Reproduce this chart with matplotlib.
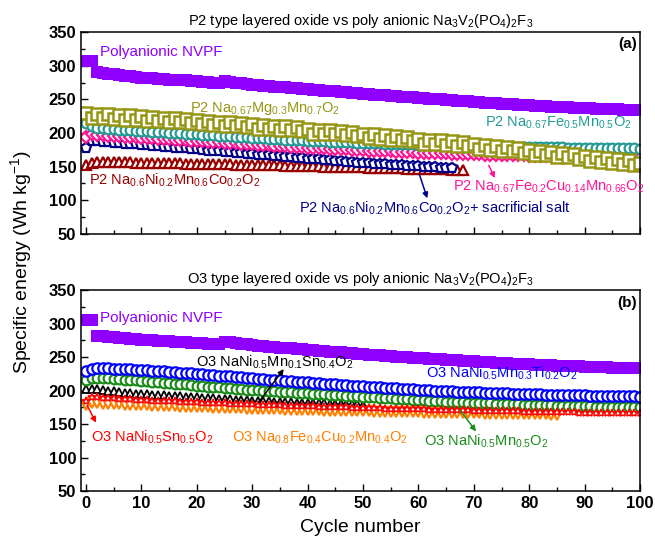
import numpy as np
import matplotlib
matplotlib.use('Agg')
import matplotlib.pyplot as plt
from matplotlib.ticker import MultipleLocator

plt.rcParams['font.family'] = ['Liberation Sans', 'DejaVu Sans']
plt.rcParams['mathtext.fontset'] = 'custom'
plt.rcParams['mathtext.rm'] = 'Liberation Sans'
plt.rcParams['mathtext.it'] = 'Liberation Sans:italic'
plt.rcParams['mathtext.bf'] = 'Liberation Sans:bold'
plt.rcParams['mathtext.default'] = 'regular'

# ---------------- panel (a) : P2 oxides vs NVPF ----------------
nvpf_a = [307, 307, 290,
          289, 288, 287, 286, 285, 284, 283, 282,
          281, 281, 280, 280, 279, 279, 278, 278, 277, 277, 276, 276, 275, 275,
          277, 276, 275, 274, 273, 272, 271, 270.5, 270, 269, 268.5, 268, 267, 266.5, 266, 265,
          264.5, 264, 263, 262.5, 262, 261, 260.5, 260, 259, 258.5, 258, 257, 256.5, 256, 255.5, 255, 254, 253.5, 253, 252,
          251.5, 251, 250.5, 250, 249, 248.5, 248, 247.5, 247, 246, 245.5, 245, 244.5, 244, 243.5, 243, 242.5, 242, 241.5, 241,
          240.5, 240, 239.5, 239, 238.5, 238, 238, 237.5, 237, 237, 236.5, 236, 236, 235.5, 235, 235, 234.5, 234.5, 234, 234]

mg_p2 = [229, 222, 228, 222, 228, 221, 227, 220, 226, 219,
         225, 218, 224, 218, 223, 217, 222, 216, 221, 215,
         219, 213, 218, 212, 217, 211, 216, 210, 215, 209,
         213, 206, 212, 206, 211, 205, 210, 204, 209, 203,
         206, 199, 205, 199, 204, 198, 203, 197, 202, 196,
         199, 192, 198, 191, 197, 190, 196, 189, 194, 188,
         191, 184, 190, 183, 189, 182, 188, 181, 186, 180,
         183, 176, 182, 175, 181, 174, 179, 173, 178, 171,
         175, 168, 174, 167, 172, 165, 171, 164, 169, 162,
         166, 159, 165, 157, 163, 156, 162, 154, 160, 152,
         155]

femn_p2 = [215, 211, 208,
           207, 206, 205.5, 205, 204.5, 204, 203.5, 203,
           202.5, 202, 201.5, 201, 200.5, 200, 199.5, 199, 198.5, 198,
           197.5, 197, 196.5, 196, 195.5, 195, 194.5, 194, 193.5, 193,
           192.5, 192, 191.5, 191, 190.5, 190, 189.5, 189, 189, 188.5,
           188, 188, 187.5, 187, 187, 186.5, 186, 186, 185.5, 185,
           185, 184.5, 184.5, 184, 184, 183.5, 183.5, 183, 183, 182.5,
           182.5, 182, 182, 182, 181.5, 181.5, 181, 181, 181, 180.5,
           180.5, 180.5, 180, 180, 180, 179.5, 179.5, 179.5, 179, 179,
           179, 179, 178.5, 178.5, 178.5, 178.5, 178, 178, 178, 178,
           177.5, 177.5, 177.5, 177.5, 177, 177, 177, 177, 177, 176.5]

fecu_p2 = [194, 198,
           197, 196.5, 196, 195.5, 195, 194.5, 194, 193.5, 193,
           192.5, 192, 191.5, 191, 190.5, 190, 189.5, 189, 188.5, 188,
           187.5, 187, 186.5, 186, 185.5, 185, 184.5, 184, 183.5, 183,
           182.5, 182, 181.5, 181, 180.5, 180, 179.5, 179, 178.5, 178,
           177.5, 177, 177, 176.5, 176, 176, 175.5, 175, 175, 174.5,
           174, 174, 173.5, 173, 173, 172.5, 172, 172, 171.5, 171,
           171, 170.5, 170.5, 170, 170, 169.5, 169.5, 169, 169, 168.5,
           168.5, 168, 168, 168, 167.5, 167.5, 167, 167, 167, 166.5,
           166.5, 166.5, 166, 166, 166, 165.5, 165.5, 165.5, 165, 165,
           165, 164.5, 164.5, 164.5, 164, 164, 164, 163.5, 163.5, 163.5]

nmc_salt = [177, 188,
            187.5, 187, 186, 185.5, 185, 184, 183.5, 183, 182,
            181.5, 181, 180, 179.5, 179, 178, 177.5, 177, 176, 175.5,
            175, 174, 173.5, 173, 172, 171.5, 171, 170, 169.5, 169,
            168, 167.5, 167, 166, 165.5, 165, 164, 163.5, 163, 162,
            161.5, 161, 160, 159.5, 159, 158, 157.5, 157, 156, 155.5,
            155, 154.5, 154, 153.5, 153, 152.5, 152, 151.5, 151, 150.5,
            150, 149.5, 149, 148.5, 148, 147.5]

nmc_p2 = [153, 156, 157, 157, 157, 157, 156.5, 156.5, 156.5, 156, 156,
          156, 155.5, 155.5, 155.5, 155, 155, 155, 154.5, 154.5, 154.5,
          154, 154, 154, 153.5, 153.5, 153.5, 153, 153, 153, 152.5,
          152.5, 152.5, 152, 152, 152, 151.5, 151.5, 151, 151, 151,
          150.5, 150.5, 150, 150, 150, 149.5, 149.5, 149, 149, 149,
          148.5, 148.5, 148, 148, 148, 147.5, 147.5, 147, 147, 147,
          146.5, 146.5, 146, 146, 146, 145.5, 145.5, 145]

# ---------------- panel (b) : O3 oxides vs NVPF ----------------
nvpf_b = [306, 306, 282,
          281, 280, 279.5, 279, 278, 277.5, 277, 276,
          275.5, 275, 274.5, 274, 273.5, 273, 272.5, 272, 271.5, 271, 270.5, 270, 269.5, 269,
          273, 272, 271, 270, 269, 268, 267, 266, 265.5, 265, 264, 263.5, 263, 262, 261.5, 261,
          260, 259.5, 259, 258, 257.5, 257, 256, 255.5, 255, 254, 253.5, 253, 252.5, 252, 251, 250.5, 250, 249.5, 249, 248.5,
          248, 247.5, 247, 246.5, 246, 245.5, 245, 244.5, 244, 243.5, 243, 242.5, 242, 241.5, 241, 240.5, 240, 239.5, 239, 239,
          238.5, 238, 238, 237.5, 237, 237, 236.5, 236, 236, 235.5, 235, 235, 234.5, 234.5, 234, 234, 233.5, 233.5, 233, 233]

ti_o3 = [229, 232,
         233, 233, 233, 232.5, 232.5, 232, 231.5, 231, 230.5,
         230, 229.5, 229, 228.5, 228, 227, 226.5, 226, 225.5, 225,
         224, 223.5, 223, 222, 221.5, 221, 220, 219.5, 219, 218,
         217.5, 217, 216, 215.5, 215, 214.5, 214, 213, 212.5, 212,
         211.5, 211, 210, 209.5, 209, 208.5, 208, 207.5, 207, 206.5,
         206, 205.5, 205, 204.5, 204, 203.5, 203, 202.5, 202, 201.5,
         201, 200.5, 200, 200, 199.5, 199, 198.5, 198.5, 198, 197.5,
         197.5, 197, 197, 196.5, 196, 196, 195.5, 195.5, 195, 195,
         194.5, 194.5, 194, 194, 194, 193.5, 193.5, 193, 193, 193,
         192.5, 192.5, 192.5, 192, 192, 192, 191.5, 191.5, 191.5, 191]

nm_o3 = [216, 219,
         219, 218.5, 218, 217.5, 217, 216, 215.5, 215, 214,
         213.5, 213, 212, 211.5, 211, 210, 209.5, 209, 208, 207.5,
         207, 206, 205.5, 205, 204, 203.5, 203, 202, 201.5, 201,
         200.5, 200, 199.5, 199, 198.5, 198, 197.5, 197, 196.5, 196,
         195.5, 195, 194.5, 194, 193.5, 193, 192.5, 192, 191.5, 191,
         190.5, 190, 189.5, 189, 188.5, 188, 187.5, 187, 186.5, 186,
         185.5, 185, 184.5, 184, 183.5, 183.5, 183, 182.5, 182, 182,
         181.5, 181, 181, 180.5, 180, 180, 179.5, 179.5, 179, 179,
         178.5, 178.5, 178, 178, 177.5, 177.5, 177, 177, 177, 176.5,
         176.5, 176, 176, 176, 175.5, 175.5, 175.5, 175, 175, 175]

sn_mn_o3 = [202, 203, 202, 201, 200, 199, 198, 197, 196, 195.5, 195,
            194.5, 194, 193.5, 193, 192.5, 192, 191.5, 191, 190.5, 190,
            189.5, 189, 188.5, 188, 187.5, 187, 186.5, 186, 185.5, 185,
            184.5, 184, 184, 183.5, 183, 183, 182.5, 182, 182, 181.5,
            181.5, 181, 181, 180.5, 180.5, 180, 180, 179.5, 179.5, 179]

sn_o3 = [184, 190, 190, 189.5, 189, 188.5, 188, 187.5, 187, 186.5, 186,
         185.5, 185, 185, 184.5, 184, 184, 183.5, 183, 183, 182.5,
         182, 182, 181.5, 181, 181, 180.5, 180, 180, 179.5, 179.5,
         179, 179, 178.5, 178, 178, 177.5, 177.5, 177, 177, 176.5,
         176.5, 176, 176, 175.5, 175.5, 175, 175, 174.5, 174.5, 174,
         174, 173.5, 173.5, 173, 173, 173, 172.5, 172.5, 172, 172,
         172, 171.5, 171.5, 171, 171, 171, 170.5, 170.5, 170.5, 170,
         170, 170, 169.5, 169.5, 169.5, 169, 169, 169, 168.5, 168.5,
         168.5, 168, 168, 168, 168, 167.5, 167.5, 167.5, 167, 167,
         167, 167, 166.5, 166.5, 166.5, 166.5, 166, 166, 166, 166]

fecu_o3 = [178, 181, 181, 180.5, 180, 180, 179.5, 179, 179, 178.5, 178,
           178, 177.5, 177, 177, 176.5, 176.5, 176, 176, 175.5, 175.5,
           175, 175, 174.5, 174.5, 174, 174, 173.5, 173.5, 173, 173,
           172.5, 172.5, 172.5, 172, 172, 171.5, 171.5, 171, 171, 171,
           170.5, 170.5, 170, 170, 170, 169.5, 169.5, 169.5, 169, 169,
           169, 168.5, 168.5, 168.5, 168, 168, 168, 167.5, 167.5, 167.5,
           167, 167, 167, 166.5, 166.5, 166.5, 166.5, 166, 166, 166,
           166, 165.5, 165.5, 165.5, 165.5, 165, 165, 165, 165, 164.5,
           164.5, 164.5, 164.5, 164, 164]

fig = plt.figure(figsize=(6.55, 5.4), dpi=100)
ax1 = fig.add_axes([0.1237, 0.5667, 0.8534, 0.374])
ax2 = fig.add_axes([0.1237, 0.0907, 0.8534, 0.3722])


def series(ax, y, color, marker, ms, mew=1.6, filled=False):
    x = np.arange(len(y))
    if filled:
        ax.plot(x, y, linestyle='none', marker=marker, ms=ms, color=color,
                mec=color, mfc=color, mew=0)
    else:
        ax.plot(x, y, linestyle='none', marker=marker, ms=ms, color=color,
                mec=color, mfc='white', mew=mew)


def arrow(ax, tail, head, color):
    ax.annotate('', xy=head, xytext=tail,
                arrowprops=dict(arrowstyle='-|>', color=color, lw=1.1,
                                mutation_scale=8, shrinkA=0, shrinkB=0))


# panel (a)
series(ax1, nmc_p2, '#990000', '^', 7.5)
series(ax1, nmc_salt, '#00008b', 'p', 7.5)
series(ax1, fecu_p2, '#ff1493', 'D', 6)
series(ax1, femn_p2, '#239a96', 'o', 7)
series(ax1, mg_p2, '#969614', 's', 8, mew=1.8)
series(ax1, nvpf_a, '#8f00ff', 's', 8.5, filled=True)

fs = 10.5
ax1.text(2.5, 320, 'Polyanionic NVPF', color='#8f00ff', fontsize=11, va='center')
ax1.text(18.8, 237, 'P2 Na$_{0.67}$Mg$_{0.3}$Mn$_{0.7}$O$_2$', color='#969614', fontsize=fs, va='center')
ax1.text(72, 215, 'P2 Na$_{0.67}$Fe$_{0.5}$Mn$_{0.5}$O$_2$', color='#239a96', fontsize=fs, va='center')
ax1.text(0.5, 130, 'P2 Na$_{0.6}$Ni$_{0.2}$Mn$_{0.6}$Co$_{0.2}$O$_2$', color='#990000', fontsize=fs, va='center')
ax1.text(66.3, 120, 'P2 Na$_{0.67}$Fe$_{0.2}$Cu$_{0.14}$Mn$_{0.66}$O$_2$', color='#ff1493', fontsize=fs, va='center')
ax1.text(38.5, 88, 'P2 Na$_{0.6}$Ni$_{0.2}$Mn$_{0.6}$Co$_{0.2}$O$_2$+ sacrificial salt', color='#00008b', fontsize=fs, va='center')
arrow(ax1, (60.2, 138), (61.6, 103), '#00008b')
arrow(ax1, (72.7, 152), (73.8, 133), '#ff1493')
ax1.text(0.995, 0.94, '(a)', transform=ax1.transAxes, ha='right', va='center',
         fontsize=11, fontweight='bold')
ax1.set_title('P2 type layered oxide vs poly anionic Na$_3$V$_2$(PO$_4$)$_2$F$_3$',
              fontsize=10.5, pad=5)

# panel (b)
series(ax2, fecu_o3, '#ff8000', 'v', 7)
series(ax2, sn_mn_o3, 'black', '^', 6, mew=1.3)
series(ax2, nm_o3, '#1a8c1a', 'o', 7)
series(ax2, ti_o3, '#0000ff', 'o', 7.5)
series(ax2, sn_o3, '#ff0000', '*', 6, mew=1.1)
series(ax2, nvpf_b, '#8f00ff', 's', 8.5, filled=True)

ax2.text(2.5, 308, 'Polyanionic NVPF', color='#8f00ff', fontsize=11, va='center')
ax2.text(19.9, 242, 'O3 NaNi$_{0.5}$Mn$_{0.1}$Sn$_{0.4}$O$_2$', color='black', fontsize=fs, va='center')
ax2.text(61.4, 226, 'O3 NaNi$_{0.5}$Mn$_{0.3}$Ti$_{0.2}$O$_2$', color='#0000ff', fontsize=fs, va='center')
ax2.text(0.9, 130, 'O3 NaNi$_{0.5}$Sn$_{0.5}$O$_2$', color='#ff0000', fontsize=fs, va='center')
ax2.text(26.4, 130, 'O3 Na$_{0.8}$Fe$_{0.4}$Cu$_{0.2}$Mn$_{0.4}$O$_2$', color='#ff8000', fontsize=fs, va='center')
ax2.text(61, 124, 'O3 NaNi$_{0.5}$Mn$_{0.5}$O$_2$', color='#1a8c1a', fontsize=fs, va='center')
arrow(ax2, (31.2, 183), (35.7, 232), 'black')
arrow(ax2, (0.2, 178), (1.8, 152), '#ff0000')
arrow(ax2, (67.5, 171), (70.4, 139), '#1a8c1a')
ax2.text(0.995, 0.935, '(b)', transform=ax2.transAxes, ha='right', va='center',
         fontsize=11, fontweight='bold')
ax2.set_title('O3 type layered oxide vs poly anionic Na$_3$V$_2$(PO$_4$)$_2$F$_3$',
              fontsize=10.5, pad=5)

for ax in (ax1, ax2):
    ax.set_xlim(-0.9, 100)
    ax.set_ylim(50, 350)
    ax.xaxis.set_major_locator(MultipleLocator(10))
    ax.xaxis.set_minor_locator(MultipleLocator(5))
    ax.yaxis.set_major_locator(MultipleLocator(50))
    ax.yaxis.set_minor_locator(MultipleLocator(25))
    ax.tick_params(which='both', direction='in', width=1)
    ax.tick_params(which='major', length=5, labelsize=12)
    ax.tick_params(which='minor', length=3)
    for lab in ax.get_xticklabels() + ax.get_yticklabels():
        lab.set_fontweight('bold')
    for sp in ax.spines.values():
        sp.set_linewidth(1.1)

ax1.tick_params(labelbottom=False)
ax2.set_xlabel('Cycle number', fontsize=14, labelpad=6)
fig.text(0.032, 0.515, 'Specific energy (Wh kg$^{-1}$)', rotation=90,
         ha='center', va='center', fontsize=14)

fig.savefig('out.png', dpi=100)
